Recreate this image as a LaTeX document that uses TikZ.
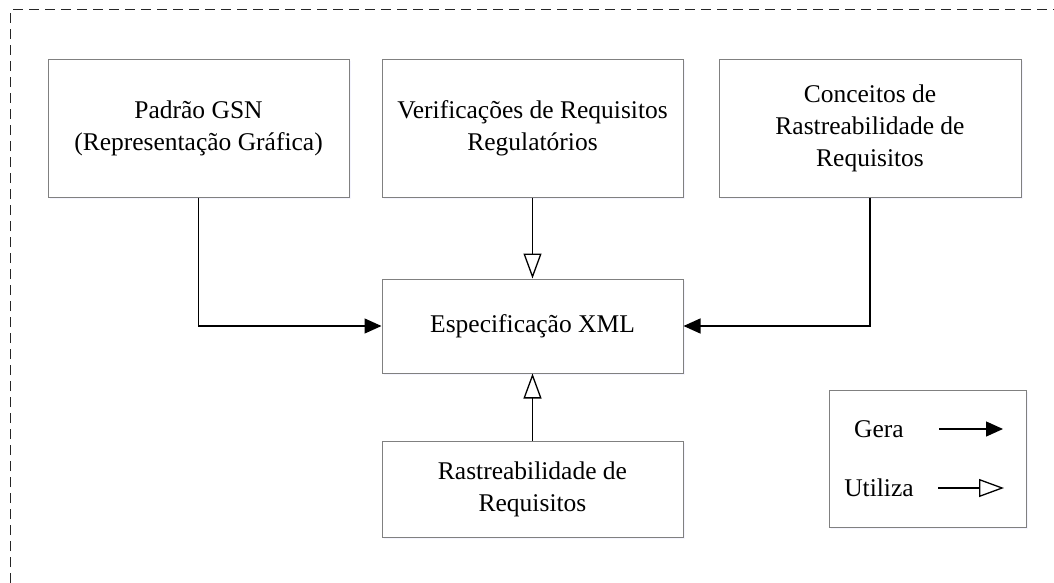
\documentclass[tikz,border=0pt]{standalone}
\usepackage{fontspec}
\setmainfont{Liberation Serif}
\usetikzlibrary{arrows.meta,shadows}
\begin{document}
\begin{tikzpicture}[x=1pt,y=-1pt,
  box/.style={draw=black!50, line width=1pt, fill=white, rectangle, align=center,
    font=\fontsize{25.5}{32}\selectfont, inner sep=0pt,
    drop shadow={opacity=0.10, shadow xshift=1.5pt, shadow yshift=-1.5pt, fill=blue!40}},
  lbl/.style={font=\fontsize{25.5}{32}\selectfont, inner sep=0pt},
  gen/.style={draw=black, line width=1.3pt, -{Triangle[length=17pt,width=15pt]}},
  use/.style={draw=black, line width=1.3pt, -{Triangle[open,length=25pt,width=18pt,fill=white]}},
  frame/.style={draw=black!85, line width=1pt, dash pattern=on 10pt off 6pt}]
\useasboundingbox (0,0) rectangle (1054,583);
\draw[frame] (10,583) -- (10,10) -- (1054,10);
\node[box, minimum width=301pt, minimum height=137pt] (gsn) at (198.5,128.5) {Padrão GSN\\(Representação Gráfica)};
\node[box, minimum width=301pt, minimum height=137pt] (ver) at (532.5,128.5) {Verificações de Requisitos\\Regulatórios};
\node[box, minimum width=302pt, minimum height=137pt] (con) at (870,128.5) {Conceitos de\\Rastreabilidade de\\Requisitos};
\node[box, minimum width=301pt, minimum height=94pt] (xml) at (532.5,326) {Especificação XML};
\node[box, minimum width=301pt, minimum height=96pt] (ras) at (532.5,489) {Rastreabilidade de\\Requisitos};
\node[box, minimum width=197pt, minimum height=137pt] (leg) at (927.5,458.5) {};
\node[lbl] (gera) at (879,429) {Gera};
\node[lbl] (util) at (879,488) {Utiliza};
\coordinate (g1) at (939,429);
\coordinate (g2) at (1003,429);
\coordinate (u1) at (938,488);
\coordinate (u2) at (1004,488);
\draw[gen] (gsn.south) |- (xml.west);
\draw[gen] (con.south) |- (xml.east);
\draw[use] (ver.south) -- (xml.north);
\draw[use] (ras.north) -- (xml.south);
\draw[gen] (g1) -- (g2);
\draw[use] (u1) -- (u2);
\end{tikzpicture}
\end{document}
